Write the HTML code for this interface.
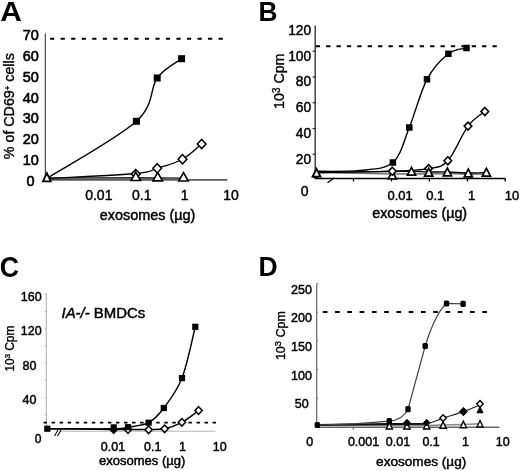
<!DOCTYPE html>
<html><head><meta charset="utf-8"><style>
html,body{margin:0;padding:0;background:#fff;}
svg{display:block;font-family:"Liberation Sans", sans-serif;will-change:transform;}
</style></head><body>
<svg width="520" height="471" viewBox="0 0 520 471">
<rect width="520" height="471" fill="#fff"/>
<text x="0.2" y="21.1" font-size="28.5" font-weight="bold" textLength="21.6" lengthAdjust="spacingAndGlyphs">A</text>
<text x="38.90" y="40.20" font-size="14.50" text-anchor="end" font-weight="normal" font-style="normal" fill="#000" stroke="#000" stroke-width="0.60" >70</text>
<text x="38.90" y="61.00" font-size="14.50" text-anchor="end" font-weight="normal" font-style="normal" fill="#000" stroke="#000" stroke-width="0.60" >60</text>
<text x="38.90" y="81.80" font-size="14.50" text-anchor="end" font-weight="normal" font-style="normal" fill="#000" stroke="#000" stroke-width="0.60" >50</text>
<text x="38.90" y="102.60" font-size="14.50" text-anchor="end" font-weight="normal" font-style="normal" fill="#000" stroke="#000" stroke-width="0.60" >40</text>
<text x="38.90" y="123.40" font-size="14.50" text-anchor="end" font-weight="normal" font-style="normal" fill="#000" stroke="#000" stroke-width="0.60" >30</text>
<text x="38.90" y="144.20" font-size="14.50" text-anchor="end" font-weight="normal" font-style="normal" fill="#000" stroke="#000" stroke-width="0.60" >20</text>
<text x="38.90" y="165.00" font-size="14.50" text-anchor="end" font-weight="normal" font-style="normal" fill="#000" stroke="#000" stroke-width="0.60" >10</text>
<text x="30.50" y="186.20" font-size="14.50" text-anchor="middle" font-weight="normal" font-style="normal" fill="#000" stroke="#000" stroke-width="0.60" >0</text>
<text transform="translate(13.90,106.20) rotate(-90)" font-size="14.80" text-anchor="middle" textLength="106.00" lengthAdjust="spacingAndGlyphs" stroke="#000" stroke-width="0.35">% of CD69<tspan font-size="8" dy="-4.2">+</tspan><tspan dy="4.2"> cells</tspan></text>
<line x1="45.30" y1="33.50" x2="45.30" y2="180.00" stroke="#333" stroke-width="1.10" />
<line x1="45.30" y1="179.90" x2="227.40" y2="179.90" stroke="#5c5c5c" stroke-width="1.60" />
<line x1="50.10" y1="38.80" x2="224.00" y2="38.80" stroke="#000" stroke-width="2.00" stroke-dasharray="4.2,6.33"/>
<path d="M46.80,178.50 L135.80,178.00 L158.50,178.30 L183.50,178.50" stroke="#222" stroke-width="2.20" fill="none" />
<path d="M46.80,178.50 L135.80,178.80 L158.50,179.00 L183.50,179.00" stroke="#666" stroke-width="1.50" fill="none" />
<path d="M46.80,178.50 C61.63,177.67 117.40,175.20 135.80,173.50 C154.20,171.80 149.42,170.68 157.20,168.30 C164.98,165.92 175.08,163.25 182.50,159.20 C189.92,155.15 198.50,146.53 201.70,144.00" stroke="#000" stroke-width="1.30" fill="none" />
<path d="M46.80,178.50 C61.73,168.97 118.00,138.05 136.40,121.30 C154.80,104.55 149.67,88.43 157.20,78.00 C164.73,67.57 177.53,61.92 181.60,58.70" stroke="#000" stroke-width="1.40" fill="none" />
<rect x="132.90" y="117.80" width="7.00" height="7.00" fill="#000" rx="0.00"/>
<rect x="153.70" y="74.50" width="7.00" height="7.00" fill="#000" rx="0.00"/>
<rect x="178.10" y="55.20" width="7.00" height="7.00" fill="#000" rx="0.00"/>
<path d="M135.80,169.40 L140.17,174.00 L135.80,178.60 L131.43,174.00 Z" fill="#fff" stroke="#000" stroke-width="1.50"/>
<path d="M135.80,172.05 L140.55,180.55 L131.05,180.55 Z" fill="#fff" stroke="#000" stroke-width="1.60" stroke-linejoin="miter"/>
<path d="M157.70,172.35 L162.45,180.85 L152.95,180.85 Z" fill="#fff" stroke="#000" stroke-width="1.60" stroke-linejoin="miter"/>
<path d="M183.50,172.55 L188.25,181.05 L178.75,181.05 Z" fill="#fff" stroke="#000" stroke-width="1.60" stroke-linejoin="miter"/>
<path d="M157.20,163.70 L161.57,168.30 L157.20,172.90 L152.83,168.30 Z" fill="#fff" stroke="#000" stroke-width="1.50"/>
<path d="M182.50,154.60 L186.87,159.20 L182.50,163.80 L178.13,159.20 Z" fill="#fff" stroke="#000" stroke-width="1.50"/>
<path d="M201.70,139.40 L206.07,144.00 L201.70,148.60 L197.33,144.00 Z" fill="#fff" stroke="#000" stroke-width="1.50"/>
<path d="M46.90,173.20 L50.80,181.40 L43.00,181.40 Z" fill="#fff" stroke="#000" stroke-width="1.80" stroke-linejoin="miter"/>
<text x="98.80" y="199.60" font-size="14.00" text-anchor="middle" font-weight="normal" font-style="normal" fill="#000" stroke="#000" stroke-width="0.45" >0.01</text>
<text x="141.80" y="199.60" font-size="14.00" text-anchor="middle" font-weight="normal" font-style="normal" fill="#000" stroke="#000" stroke-width="0.45" >0.1</text>
<text x="184.60" y="199.60" font-size="14.00" text-anchor="middle" font-weight="normal" font-style="normal" fill="#000" stroke="#000" stroke-width="0.45" >1</text>
<text x="231.00" y="199.60" font-size="14.00" text-anchor="middle" font-weight="normal" font-style="normal" fill="#000" stroke="#000" stroke-width="0.45" >10</text>
<text x="147.60" y="219.60" font-size="14.40" text-anchor="middle" font-weight="normal" font-style="normal" fill="#000" stroke="#000" stroke-width="0.45" >exosomes (µg)</text>
<text x="258.4" y="21.1" font-size="28" font-weight="bold" textLength="19" lengthAdjust="spacingAndGlyphs">B</text>
<text x="311.20" y="35.00" font-size="13.80" text-anchor="end" font-weight="normal" font-style="normal" fill="#000" stroke="#000" stroke-width="0.45" >120</text>
<text x="311.20" y="60.70" font-size="13.80" text-anchor="end" font-weight="normal" font-style="normal" fill="#000" stroke="#000" stroke-width="0.45" >100</text>
<text x="311.20" y="86.40" font-size="13.80" text-anchor="end" font-weight="normal" font-style="normal" fill="#000" stroke="#000" stroke-width="0.45" >80</text>
<text x="311.20" y="112.10" font-size="13.80" text-anchor="end" font-weight="normal" font-style="normal" fill="#000" stroke="#000" stroke-width="0.45" >60</text>
<text x="311.20" y="137.80" font-size="13.80" text-anchor="end" font-weight="normal" font-style="normal" fill="#000" stroke="#000" stroke-width="0.45" >40</text>
<text x="311.20" y="163.50" font-size="13.80" text-anchor="end" font-weight="normal" font-style="normal" fill="#000" stroke="#000" stroke-width="0.45" >20</text>
<text x="304.60" y="196.40" font-size="14.00" text-anchor="middle" font-weight="normal" font-style="normal" fill="#000" stroke="#000" stroke-width="0.45" >0</text>
<text transform="translate(283.80,81.20) rotate(-90)" font-size="14.50" text-anchor="middle" textLength="55.40" lengthAdjust="spacingAndGlyphs" stroke="#000" stroke-width="0.35">10<tspan font-size="10" dy="-3.4">3</tspan><tspan dy="3.4"> Cpm</tspan></text>
<line x1="315.20" y1="25.50" x2="315.20" y2="178.50" stroke="#444" stroke-width="1.50" />
<line x1="312.60" y1="51.25" x2="315.00" y2="51.25" stroke="#222" stroke-width="1.20" />
<line x1="312.60" y1="77.00" x2="315.00" y2="77.00" stroke="#222" stroke-width="1.20" />
<line x1="312.60" y1="102.75" x2="315.00" y2="102.75" stroke="#222" stroke-width="1.20" />
<line x1="312.60" y1="128.50" x2="315.00" y2="128.50" stroke="#222" stroke-width="1.20" />
<line x1="312.60" y1="154.25" x2="315.00" y2="154.25" stroke="#222" stroke-width="1.20" />
<line x1="314.80" y1="178.50" x2="505.00" y2="178.50" stroke="#000" stroke-width="1.60" />
<line x1="353.50" y1="178.30" x2="353.50" y2="181.50" stroke="#000" stroke-width="1.30" />
<line x1="391.50" y1="178.30" x2="391.50" y2="181.50" stroke="#000" stroke-width="1.30" />
<line x1="429.40" y1="178.30" x2="429.40" y2="181.50" stroke="#000" stroke-width="1.30" />
<line x1="467.50" y1="178.30" x2="467.50" y2="181.50" stroke="#000" stroke-width="1.30" />
<line x1="505.20" y1="178.30" x2="505.20" y2="181.50" stroke="#000" stroke-width="1.30" />
<line x1="327.50" y1="182.70" x2="334.50" y2="177.80" stroke="#000" stroke-width="1.40" />
<line x1="315.70" y1="46.30" x2="500.00" y2="46.30" stroke="#000" stroke-width="2.00" stroke-dasharray="4.3,6.1"/>
<path d="M316.00,172.50 L393.20,174.00 L411.80,173.80 L428.90,174.00 L446.90,173.50 L468.20,174.20 L486.20,174.00" stroke="#777" stroke-width="1.60" fill="none" />
<path d="M316.00,172.50 C328.72,172.33 376.38,171.68 392.30,171.50 C408.22,171.32 405.43,171.32 411.50,171.40 C417.57,171.48 422.72,171.90 428.70,172.00 C434.68,172.10 440.80,171.83 447.40,172.00 C454.00,172.17 461.80,172.92 468.30,173.00 C474.80,173.08 483.38,172.58 486.40,172.50" stroke="#000" stroke-width="1.30" fill="none" />
<path d="M316.00,172.50 C328.72,172.28 373.53,171.85 392.30,171.20 C411.07,170.55 419.35,170.33 428.60,168.60 C437.85,166.87 441.23,167.88 447.80,160.80 C454.37,153.72 461.83,134.32 468.00,126.10 C474.17,117.88 482.00,113.93 484.80,111.50" stroke="#000" stroke-width="1.30" fill="none" />
<path d="M316.00,171.30 C323.33,171.15 347.18,171.87 360.00,170.40 C372.82,168.93 384.68,169.65 392.90,162.50 C401.12,155.35 403.62,141.37 409.30,127.50 C414.98,113.63 420.48,91.58 427.00,79.30 C433.52,67.02 441.82,59.02 448.40,53.80 C454.98,48.58 463.48,48.97 466.50,48.00" stroke="#000" stroke-width="1.40" fill="none" />
<rect x="389.65" y="159.25" width="6.50" height="6.50" fill="#000" rx="0.00"/>
<rect x="406.05" y="124.25" width="6.50" height="6.50" fill="#000" rx="0.00"/>
<rect x="423.75" y="76.05" width="6.50" height="6.50" fill="#000" rx="0.00"/>
<rect x="445.15" y="50.55" width="6.50" height="6.50" fill="#000" rx="0.00"/>
<rect x="463.25" y="44.75" width="6.50" height="6.50" fill="#000" rx="0.00"/>
<path d="M392.30,171.10 L396.40,178.90 L388.20,178.90 Z" fill="#fff" stroke="#000" stroke-width="1.70" stroke-linejoin="miter"/>
<path d="M392.30,167.20 L396.10,171.20 L392.30,175.20 L388.50,171.20 Z" fill="#fff" stroke="#000" stroke-width="1.60"/>
<path d="M428.60,164.60 L432.40,168.60 L428.60,172.60 L424.80,168.60 Z" fill="#fff" stroke="#000" stroke-width="1.60"/>
<path d="M447.80,156.80 L451.60,160.80 L447.80,164.80 L444.00,160.80 Z" fill="#fff" stroke="#000" stroke-width="1.60"/>
<path d="M468.00,122.10 L471.80,126.10 L468.00,130.10 L464.20,126.10 Z" fill="#fff" stroke="#000" stroke-width="1.60"/>
<path d="M484.80,107.50 L488.60,111.50 L484.80,115.50 L481.00,111.50 Z" fill="#fff" stroke="#000" stroke-width="1.60"/>
<path d="M411.50,167.30 L415.60,175.10 L407.40,175.10 Z" fill="#fff" stroke="#000" stroke-width="1.70" stroke-linejoin="miter"/>
<path d="M428.70,168.40 L432.80,176.20 L424.60,176.20 Z" fill="#fff" stroke="#000" stroke-width="1.70" stroke-linejoin="miter"/>
<path d="M447.40,168.10 L451.50,175.90 L443.30,175.90 Z" fill="#fff" stroke="#000" stroke-width="1.70" stroke-linejoin="miter"/>
<path d="M468.30,169.10 L472.40,176.90 L464.20,176.90 Z" fill="#fff" stroke="#000" stroke-width="1.70" stroke-linejoin="miter"/>
<path d="M486.40,168.40 L490.50,176.20 L482.30,176.20 Z" fill="#fff" stroke="#000" stroke-width="1.70" stroke-linejoin="miter"/>
<rect x="313.00" y="173.00" width="5.00" height="5.00" fill="#000" rx="0.00"/>
<path d="M316.50,168.80 L320.40,176.60 L312.60,176.60 Z" fill="#fff" stroke="#000" stroke-width="1.90" stroke-linejoin="miter"/>
<text x="400.20" y="199.90" font-size="13.00" text-anchor="middle" font-weight="normal" font-style="normal" fill="#000" stroke="#000" stroke-width="0.45" >0.01</text>
<text x="435.20" y="199.90" font-size="13.00" text-anchor="middle" font-weight="normal" font-style="normal" fill="#000" stroke="#000" stroke-width="0.45" >0.1</text>
<text x="471.50" y="199.90" font-size="13.00" text-anchor="middle" font-weight="normal" font-style="normal" fill="#000" stroke="#000" stroke-width="0.45" >1</text>
<text x="512.00" y="199.90" font-size="13.00" text-anchor="middle" font-weight="normal" font-style="normal" fill="#000" stroke="#000" stroke-width="0.45" >10</text>
<text x="419.70" y="218.40" font-size="14.30" text-anchor="middle" font-weight="normal" font-style="normal" fill="#000" stroke="#000" stroke-width="0.45" >exosomes (µg)</text>
<text x="-0.2" y="276.7" font-size="29" font-weight="bold" textLength="19.3" lengthAdjust="spacingAndGlyphs">C</text>
<text x="41.60" y="301.20" font-size="12.50" text-anchor="end" font-weight="normal" font-style="normal" fill="#000" stroke="#000" stroke-width="0.45" >160</text>
<text x="41.60" y="335.40" font-size="12.50" text-anchor="end" font-weight="normal" font-style="normal" fill="#000" stroke="#000" stroke-width="0.45" >120</text>
<text x="36.40" y="369.60" font-size="12.50" text-anchor="end" font-weight="normal" font-style="normal" fill="#000" stroke="#000" stroke-width="0.45" >80</text>
<text x="36.40" y="403.80" font-size="12.50" text-anchor="end" font-weight="normal" font-style="normal" fill="#000" stroke="#000" stroke-width="0.45" >40</text>
<text x="38.20" y="442.50" font-size="12.00" text-anchor="middle" font-weight="normal" font-style="normal" fill="#000" stroke="#000" stroke-width="0.45" >0</text>
<text transform="translate(14.00,348.60) rotate(-90)" font-size="12.50" text-anchor="middle" textLength="46.00" lengthAdjust="spacingAndGlyphs" stroke="#000" stroke-width="0.35">10<tspan font-size="8" dy="-4.5">3</tspan><tspan dy="4.5"> Cpm</tspan></text>
<line x1="46.30" y1="293.50" x2="46.30" y2="431.00" stroke="#aaa" stroke-width="1.00" />
<line x1="44.80" y1="294.30" x2="46.30" y2="294.30" stroke="#aaa" stroke-width="1.00" />
<line x1="44.80" y1="311.50" x2="46.30" y2="311.50" stroke="#aaa" stroke-width="1.00" />
<line x1="44.80" y1="328.70" x2="46.30" y2="328.70" stroke="#aaa" stroke-width="1.00" />
<line x1="44.80" y1="345.90" x2="46.30" y2="345.90" stroke="#aaa" stroke-width="1.00" />
<line x1="44.80" y1="363.10" x2="46.30" y2="363.10" stroke="#aaa" stroke-width="1.00" />
<line x1="44.80" y1="380.30" x2="46.30" y2="380.30" stroke="#aaa" stroke-width="1.00" />
<line x1="44.80" y1="397.50" x2="46.30" y2="397.50" stroke="#aaa" stroke-width="1.00" />
<line x1="44.80" y1="414.70" x2="46.30" y2="414.70" stroke="#aaa" stroke-width="1.00" />
<text x="61.50" y="317.60" font-size="14.60" text-anchor="start" font-weight="normal" font-style="normal" fill="#000" stroke="#000" stroke-width="0.45" textLength="83.8" lengthAdjust="spacingAndGlyphs"><tspan font-style="italic">IA-/-</tspan> BMDCs</text>
<line x1="43.50" y1="422.70" x2="216.50" y2="422.70" stroke="#000" stroke-width="1.80" stroke-dasharray="3.5,4.55"/>
<line x1="60.00" y1="431.20" x2="215.40" y2="431.20" stroke="#b5b5b5" stroke-width="1.10" />
<path d="M47.30,428.70 C58.37,428.82 100.25,429.28 113.70,429.40 C127.15,429.52 122.18,429.37 128.00,429.40 C133.82,429.43 142.50,429.70 148.60,429.60 C154.70,429.50 159.05,430.00 164.60,428.80 C170.15,427.60 176.20,425.47 181.90,422.40 C187.60,419.33 195.98,412.40 198.80,410.40" stroke="#000" stroke-width="1.50" fill="none" />
<path d="M47.30,428.70 C58.37,428.72 100.25,429.05 113.70,428.80 C127.15,428.55 122.18,428.22 128.00,427.20 C133.82,426.18 142.63,425.90 148.60,422.70 C154.57,419.50 158.23,415.43 163.80,408.00 C169.37,400.57 176.75,391.63 182.00,378.10 C187.25,364.57 193.08,335.35 195.30,326.80" stroke="#000" stroke-width="1.40" fill="none" />
<path d="M113.70,425.80 L117.31,429.60 L113.70,433.40 L110.09,429.60 Z" fill="#000" stroke="#000" stroke-width="1.50"/>
<path d="M128.00,425.80 L131.61,429.60 L128.00,433.40 L124.39,429.60 Z" fill="#fff" stroke="#000" stroke-width="1.50"/>
<path d="M148.60,426.00 L152.21,429.80 L148.60,433.60 L144.99,429.80 Z" fill="#fff" stroke="#000" stroke-width="1.50"/>
<path d="M164.60,425.00 L168.21,428.80 L164.60,432.60 L160.99,428.80 Z" fill="#fff" stroke="#000" stroke-width="1.50"/>
<path d="M181.90,418.50 L185.51,422.30 L181.90,426.10 L178.29,422.30 Z" fill="#fff" stroke="#000" stroke-width="1.50"/>
<path d="M198.60,406.70 L202.21,410.50 L198.60,414.30 L194.99,410.50 Z" fill="#fff" stroke="#000" stroke-width="1.50"/>
<rect x="44.20" y="425.60" width="6.20" height="6.20" fill="#000" rx="0.00"/>
<rect x="110.60" y="424.30" width="6.20" height="6.20" fill="#000" rx="0.00"/>
<rect x="124.90" y="424.10" width="6.20" height="6.20" fill="#000" rx="0.00"/>
<rect x="145.50" y="419.60" width="6.20" height="6.20" fill="#000" rx="0.00"/>
<rect x="160.70" y="404.90" width="6.20" height="6.20" fill="#000" rx="0.00"/>
<rect x="178.90" y="375.00" width="6.20" height="6.20" fill="#000" rx="0.00"/>
<rect x="192.20" y="323.70" width="6.20" height="6.20" fill="#000" rx="0.00"/>
<line x1="54.50" y1="436.00" x2="58.00" y2="430.00" stroke="#000" stroke-width="1.10" />
<line x1="57.50" y1="436.00" x2="61.00" y2="430.00" stroke="#000" stroke-width="1.10" />
<text x="113.00" y="450.60" font-size="12.50" text-anchor="middle" font-weight="normal" font-style="normal" fill="#000" stroke="#000" stroke-width="0.45" >0.01</text>
<text x="152.80" y="450.60" font-size="12.50" text-anchor="middle" font-weight="normal" font-style="normal" fill="#000" stroke="#000" stroke-width="0.45" >0.1</text>
<text x="182.40" y="450.60" font-size="12.50" text-anchor="middle" font-weight="normal" font-style="normal" fill="#000" stroke="#000" stroke-width="0.45" >1</text>
<text x="219.70" y="450.60" font-size="12.50" text-anchor="middle" font-weight="normal" font-style="normal" fill="#000" stroke="#000" stroke-width="0.45" >10</text>
<text x="142.20" y="464.50" font-size="13.00" text-anchor="middle" font-weight="normal" font-style="normal" fill="#000" stroke="#000" stroke-width="0.45" >exosomes (µg)</text>
<text x="258.5" y="275.5" font-size="28" font-weight="bold" textLength="19.2" lengthAdjust="spacingAndGlyphs">D</text>
<text x="311.90" y="293.50" font-size="12.50" text-anchor="end" font-weight="normal" font-style="normal" fill="#000" stroke="#000" stroke-width="0.45" >250</text>
<text x="311.90" y="322.20" font-size="12.50" text-anchor="end" font-weight="normal" font-style="normal" fill="#000" stroke="#000" stroke-width="0.45" >200</text>
<text x="311.90" y="350.90" font-size="12.50" text-anchor="end" font-weight="normal" font-style="normal" fill="#000" stroke="#000" stroke-width="0.45" >150</text>
<text x="311.90" y="379.60" font-size="12.50" text-anchor="end" font-weight="normal" font-style="normal" fill="#000" stroke="#000" stroke-width="0.45" >100</text>
<text x="308.60" y="408.30" font-size="12.50" text-anchor="end" font-weight="normal" font-style="normal" fill="#000" stroke="#000" stroke-width="0.45" >50</text>
<text transform="translate(285.00,335.60) rotate(-90)" font-size="13.00" text-anchor="middle" textLength="49.00" lengthAdjust="spacingAndGlyphs" stroke="#000" stroke-width="0.35">10<tspan font-size="9.5" dy="-4">3</tspan><tspan dy="4"> Cpm</tspan></text>
<line x1="316.70" y1="284.20" x2="316.70" y2="425.00" stroke="#666" stroke-width="1.20" />
<line x1="316.50" y1="283.50" x2="318.00" y2="283.50" stroke="#666" stroke-width="1.00" />
<line x1="316.50" y1="312.20" x2="318.00" y2="312.20" stroke="#666" stroke-width="1.00" />
<line x1="316.50" y1="340.90" x2="318.00" y2="340.90" stroke="#666" stroke-width="1.00" />
<line x1="316.50" y1="369.60" x2="318.00" y2="369.60" stroke="#666" stroke-width="1.00" />
<line x1="316.50" y1="398.30" x2="318.00" y2="398.30" stroke="#666" stroke-width="1.00" />
<line x1="316.50" y1="427.00" x2="318.00" y2="427.00" stroke="#666" stroke-width="1.00" />
<line x1="322.80" y1="312.00" x2="488.00" y2="312.00" stroke="#000" stroke-width="2.00" stroke-dasharray="4.7,7.57"/>
<line x1="317.00" y1="427.30" x2="499.40" y2="427.30" stroke="#666" stroke-width="1.40" />
<line x1="353.30" y1="427.00" x2="353.30" y2="429.60" stroke="#555" stroke-width="1.10" />
<path d="M317.30,425.00 L389.30,425.50 L407.00,425.50 L426.70,425.50 L443.10,425.00 L463.40,424.50 L480.00,423.80" stroke="#888" stroke-width="1.60" fill="none" />
<path d="M317.30,425.00 L389.30,424.00 L407.00,424.00 L426.70,423.80" stroke="#111" stroke-width="1.80" fill="none" />
<path d="M407.00,424.00 C410.28,423.97 420.68,424.78 426.70,423.80 C432.72,422.82 436.98,420.13 443.10,418.10 C449.22,416.07 457.25,413.78 463.40,411.60 C469.55,409.42 477.23,406.10 480.00,405.00" stroke="#222" stroke-width="1.20" fill="none" />
<path d="M317.3,425 C345,424.5 372,423 389,421.2 C398,420.5 404.5,416 408,409.2 L425.2,346 C429,333 437,312 446.5,303.3 L463.1,303.9" stroke="#444" stroke-width="1.20" fill="none" />
<path d="M389.30,422.45 L392.40,428.95 L386.20,428.95 Z" fill="#fff" stroke="#000" stroke-width="1.40" stroke-linejoin="miter"/>
<path d="M407.00,422.45 L410.10,428.95 L403.90,428.95 Z" fill="#fff" stroke="#000" stroke-width="1.40" stroke-linejoin="miter"/>
<path d="M426.70,422.45 L429.80,428.95 L423.60,428.95 Z" fill="#fff" stroke="#000" stroke-width="1.40" stroke-linejoin="miter"/>
<path d="M443.10,421.75 L446.20,428.25 L440.00,428.25 Z" fill="#fff" stroke="#000" stroke-width="1.40" stroke-linejoin="miter"/>
<path d="M463.40,421.25 L466.50,427.75 L460.30,427.75 Z" fill="#fff" stroke="#000" stroke-width="1.40" stroke-linejoin="miter"/>
<path d="M480.00,420.55 L483.10,427.05 L476.90,427.05 Z" fill="#fff" stroke="#000" stroke-width="1.40" stroke-linejoin="miter"/>
<path d="M407.00,419.30 L410.13,422.60 L407.00,425.90 L403.87,422.60 Z" fill="#000" stroke="#000" stroke-width="1.00"/>
<path d="M426.70,419.30 L429.83,422.60 L426.70,425.90 L423.56,422.60 Z" fill="#000" stroke="#000" stroke-width="1.00"/>
<path d="M463.40,407.40 L467.39,411.60 L463.40,415.80 L459.41,411.60 Z" fill="#000" stroke="#000" stroke-width="1.00"/>
<path d="M443.10,414.70 L446.33,418.10 L443.10,421.50 L439.87,418.10 Z" fill="#fff" stroke="#000" stroke-width="1.40"/>
<path d="M480.00,400.40 L483.23,403.80 L480.00,407.20 L476.77,403.80 Z" fill="#fff" stroke="#000" stroke-width="1.40"/>
<path d="M480.00,406.80 L483.00,412.80 L477.00,412.80 Z" fill="#000" stroke="#000" stroke-width="1.00" stroke-linejoin="miter"/>
<rect x="314.60" y="421.90" width="5.40" height="6.20" fill="#000" rx="1.50"/>
<rect x="386.60" y="418.00" width="5.40" height="6.20" fill="#000" rx="1.50"/>
<rect x="405.30" y="406.10" width="5.40" height="6.20" fill="#000" rx="1.50"/>
<rect x="422.50" y="342.90" width="5.40" height="6.20" fill="#000" rx="1.50"/>
<rect x="443.80" y="300.40" width="5.40" height="6.20" fill="#000" rx="1.50"/>
<rect x="460.40" y="300.80" width="5.40" height="6.20" fill="#000" rx="1.50"/>
<text x="309.80" y="445.80" font-size="12.50" text-anchor="middle" font-weight="normal" font-style="normal" fill="#000" stroke="#000" stroke-width="0.45" >0</text>
<text x="363.55" y="445.80" font-size="12.50" text-anchor="middle" font-weight="normal" font-style="normal" fill="#000" stroke="#000" stroke-width="0.45" >0.001</text>
<text x="398.00" y="445.80" font-size="12.50" text-anchor="middle" font-weight="normal" font-style="normal" fill="#000" stroke="#000" stroke-width="0.45" >0.01</text>
<text x="431.10" y="445.80" font-size="12.50" text-anchor="middle" font-weight="normal" font-style="normal" fill="#000" stroke="#000" stroke-width="0.45" >0.1</text>
<text x="465.60" y="445.80" font-size="12.50" text-anchor="middle" font-weight="normal" font-style="normal" fill="#000" stroke="#000" stroke-width="0.45" >1</text>
<text x="502.70" y="445.80" font-size="12.50" text-anchor="middle" font-weight="normal" font-style="normal" fill="#000" stroke="#000" stroke-width="0.45" >10</text>
<text x="421.20" y="466.20" font-size="13.60" text-anchor="middle" font-weight="normal" font-style="normal" fill="#000" stroke="#000" stroke-width="0.45" >exosomes (µg)</text>
</svg>
</body></html>
